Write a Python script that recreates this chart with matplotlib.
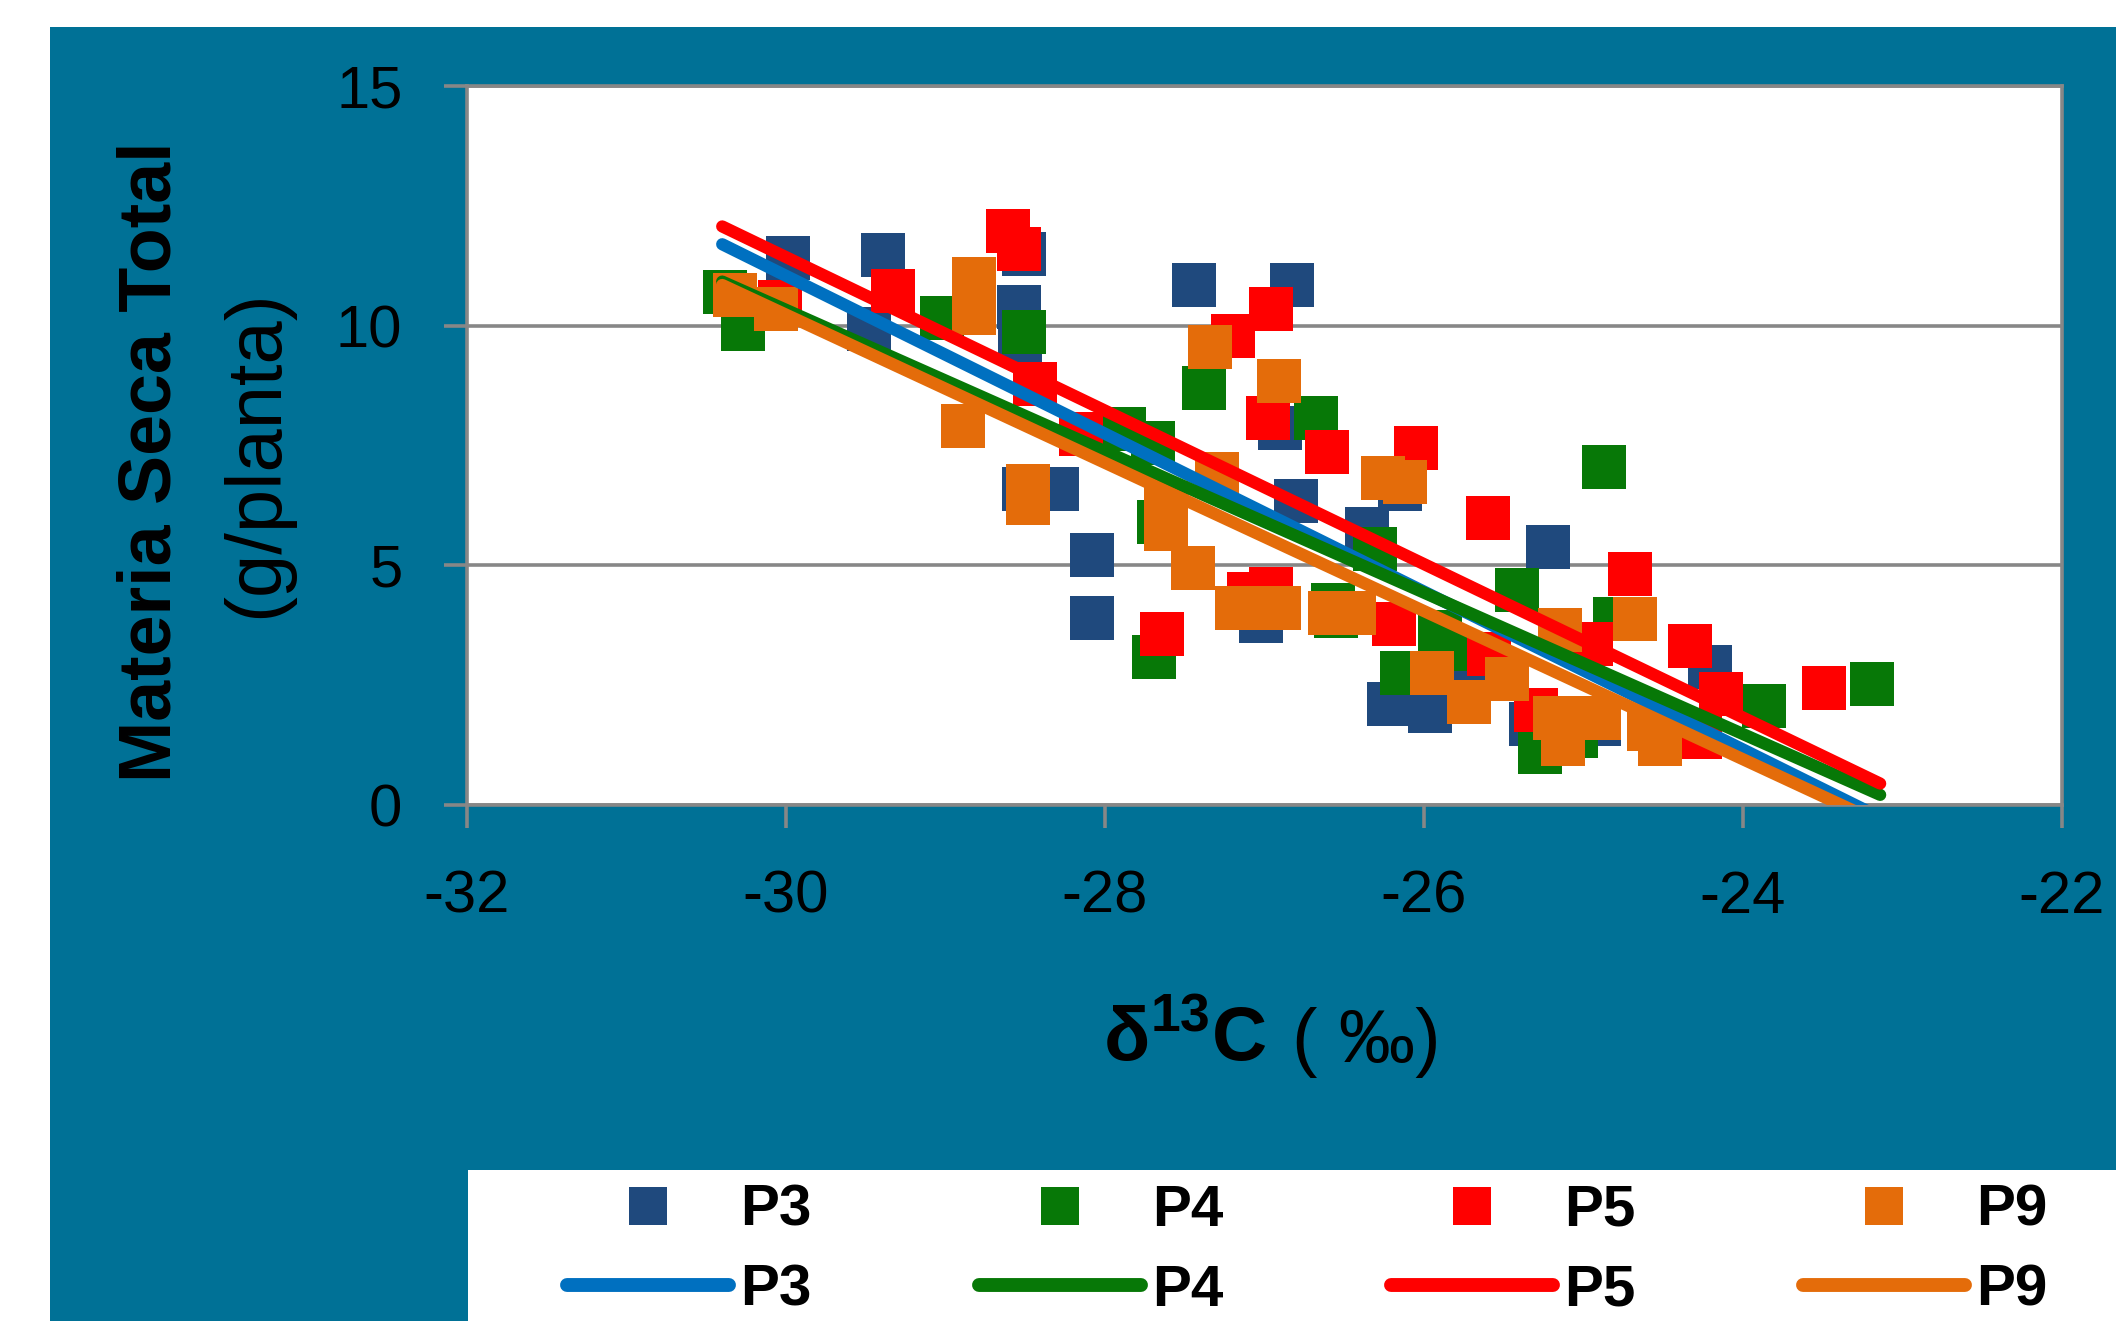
import numpy as np
import matplotlib
matplotlib.use("Agg")
import matplotlib.pyplot as plt
from matplotlib.patches import Rectangle
from matplotlib.lines import Line2D

plt.rcParams['font.family'] = ['Liberation Sans', 'DejaVu Sans']
plt.rcParams['axes.unicode_minus'] = False
plt.rcParams['mathtext.fontset'] = 'custom'
plt.rcParams['mathtext.rm'] = 'Liberation Sans'
plt.rcParams['mathtext.bf'] = 'Liberation Sans:bold'

# datos (delta13C, materia seca total)
p3_x = [-29.99, -29.39, -29.48, -28.51, -28.54, -28.53, -28.51, -28.30, -28.08, -28.08,
        -27.44, -26.83, -26.90, -26.15, -26.80, -26.36, -27.02, -26.22, -25.96, -25.73,
        -25.22, -24.21, -25.33, -24.90]
p3_y = [11.42, 11.48, 9.93, 11.49, 10.39, 9.70, 6.60, 6.60, 5.22, 3.90,
        10.85, 10.85, 7.87, 6.60, 6.35, 5.76, 3.83, 2.10, 1.96, 3.02,
        5.39, 2.88, 1.70, 1.69]

p4_x = [-30.38, -30.27, -29.02, -28.51, -27.88, -27.70, -27.38, -26.68, -27.66, -27.69,
        -26.57, -26.55, -26.31, -25.90, -25.85, -26.14, -25.42, -24.80, -24.87, -23.87,
        -23.19, -25.27, -25.05]
p4_y = [10.71, 9.94, 10.17, 9.87, 7.84, 7.55, 8.70, 8.08, 5.90, 3.08,
        4.18, 3.95, 5.34, 3.60, 3.25, 2.76, 4.48, 3.87, 7.05, 2.06,
        2.53, 1.11, 1.44]

p5_x = [-30.04, -29.33, -28.61, -28.54, -28.44, -28.15, -26.96, -27.20, -26.98, -26.61,
        -26.05, -25.60, -27.64, -27.10, -26.96, -26.19, -25.59, -24.71, -24.33, -24.14,
        -23.49, -25.30, -24.27, -24.95]
p5_y = [10.49, 10.72, 11.97, 11.60, 8.78, 7.75, 10.35, 9.78, 8.08, 7.37,
        7.45, 5.98, 3.56, 4.41, 4.50, 3.78, 3.16, 4.81, 3.31, 2.31,
        2.45, 1.98, 1.42, 3.35]

p9_x = [-30.32, -30.06, -28.82, -28.82, -28.89, -28.48, -28.48, -27.34, -26.91, -26.26,
        -26.12, -27.62, -27.62, -27.45, -27.30, -27.17, -26.91, -26.59, -26.44, -25.95,
        -25.72, -25.48, -25.18, -24.90, -25.13, -24.59, -24.52, -24.68, -25.15]
p9_y = [10.63, 10.35, 10.97, 10.27, 7.90, 6.65, 6.29, 9.56, 8.85, 6.83,
        6.74, 6.30, 5.75, 4.95, 6.90, 4.10, 4.10, 4.01, 4.01, 2.76,
        2.14, 2.62, 1.81, 1.81, 1.28, 1.59, 1.28, 3.87, 3.65]

series = ['P3', 'P4', 'P5', 'P9']
xs = [p3_x, p4_x, p5_x, p9_x]
ys = [p3_y, p4_y, p5_y, p9_y]

# lineas de tendencia (pendiente, intercepto) y rango en x
trend_m = [-1.647, -1.475, -1.601, -1.546]
trend_b = [-38.37, -33.92, -36.60, -36.15]
trend_x = [-30.40, -23.14]

mark_col = ['#1F497D', '#077807', '#FF0000', '#E46C0A']
line_col = ['#0070C0', '#077807', '#FF0000', '#E46C0A']
teal = '#007196'
gris = '#878787'

W, H = 2116, 1321
fig = plt.figure(figsize=(W / 100, H / 100), dpi=100, facecolor='white')
fig.patches.append(Rectangle((50 / W, 0), 1, 1 - 27 / H, transform=fig.transFigure,
                             facecolor=teal, edgecolor='none', zorder=-2))
fig.patches.append(Rectangle((468 / W, 0), 1, (H - 1170) / H, transform=fig.transFigure,
                             facecolor='white', edgecolor='none', zorder=-1))

ax = fig.add_axes([467 / W, 1 - 805 / H, (2062 - 467) / W, (805 - 86) / H])
ax.set_zorder(1)
ax.set_facecolor('white')

for i, s in enumerate(series):
    ax.plot(xs[i], ys[i], ls='none', marker='s', ms=32, mew=0, color=mark_col[i], zorder=2 + i)
for i, s in enumerate(series):
    tx = np.array(trend_x)
    ax.plot(tx, trend_m[i] * tx + trend_b[i], color=line_col[i], lw=8.8,
            solid_capstyle='round', zorder=10 + i)

ax.set_xlim(-32, -22)
ax.set_ylim(0, 15)
ax.set_xticks(range(-32, -21, 2))
ax.set_yticks([0, 5, 10, 15])
ax.yaxis.grid(True, color=gris, lw=2.6)
ax.set_axisbelow(True)
for sp in ax.spines.values():
    sp.set_color(gris)
    sp.set_linewidth(2.6)
ax.tick_params(direction='out', length=16.5, width=2.6, color=gris, pad=30, labelsize=43)

fig.text(151 / W, 1 - 462 / H, 'Materia Seca Total', rotation=90, ha='center', va='center',
         fontsize=53, fontweight='bold')
fig.text(257 / W, 1 - 454 / H, '(g/planta)', rotation=90, ha='center', va='center',
         fontsize=56)
fig.text(1103 / W, 1 - 1062 / H, r'δ$^{\mathbf{13}}$C', ha='left', va='baseline',
         fontsize=55, fontweight='bold')
fig.text(1292 / W, 1 - 1062 / H, '( ‰)', ha='left', va='baseline', fontsize=55)

handles = []
for i, s in enumerate(series):
    handles.append(Line2D([], [], ls='none', marker='s', ms=27, mew=0, color=mark_col[i]))
    handles.append(Line2D([], [], color=line_col[i], lw=10, solid_capstyle='round'))
labels = [s for s in series for _ in range(2)]
fig.legend(handles, labels, ncol=4, loc='upper left', bbox_to_anchor=(567 / W, 1 - 1184 / H),
           frameon=False, prop={'weight': 'bold', 'size': 42}, handlelength=2.78,
           handletextpad=0.19, columnspacing=2.87, labelspacing=0.44, borderpad=0,
           borderaxespad=0)

fig.savefig('out.png', dpi=100, facecolor='white')
